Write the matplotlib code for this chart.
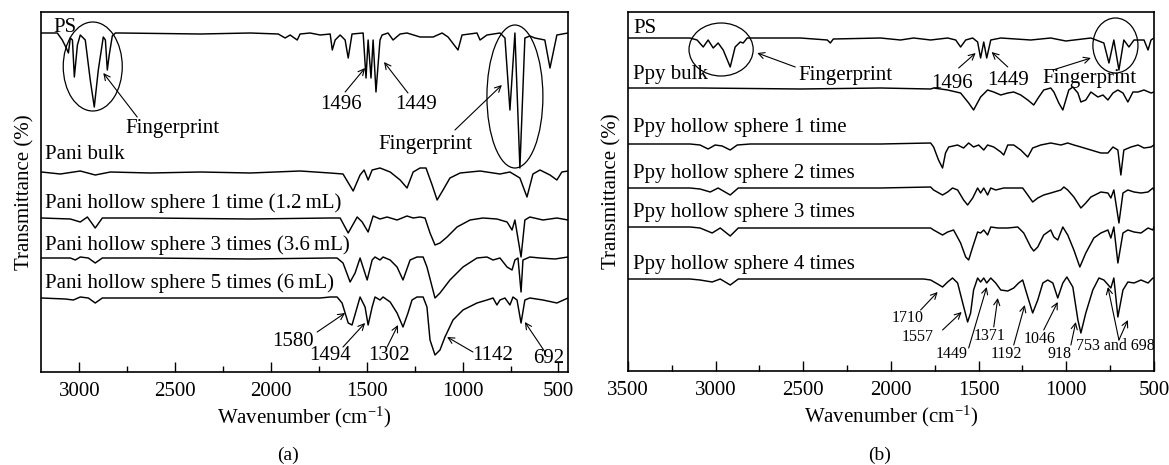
import numpy as np
import matplotlib
matplotlib.use('Agg')
import matplotlib.pyplot as plt
from matplotlib.patches import Ellipse

# ——— data: FTIR traces (wavenumber cm-1, transmittance a.u., stacked) ———
# panel (a): PS and Pani samples
ps_a_wn = [3198, 3115, 3089, 3068, 3057, 3047, 3036, 3026, 3010, 2995, 2969, 2943, 2922, 2901,
           2875, 2864, 2854, 2844, 2828, 2812, 2786, 2369, 2108, 1962, 1926, 1900, 1863, 1848,
           1796, 1743, 1691, 1680, 1665, 1639, 1613, 1597, 1577, 1519, 1504, 1493, 1478, 1467,
           1452, 1431, 1420, 1389, 1363, 1326, 1290, 1222, 1154, 1107, 1076, 1024, 1003, 925,
           909, 873, 805, 779, 753, 727, 701, 675, 649, 623, 571, 544, 508, 450]
ps_a_t = [339, 339, 332, 324, 319, 334, 332, 295, 327, 337, 332, 292, 265, 302,
          335, 332, 302, 317, 336, 339, 339, 338, 339, 338, 334, 337, 332, 338,
          339, 337, 338, 322, 332, 337, 332, 314, 338, 339, 294, 332, 294, 332,
          280, 332, 337, 339, 332, 338, 339, 335, 335, 339, 335, 322, 337, 339,
          332, 337, 339, 334, 262, 339, 204, 334, 336, 334, 332, 304, 337, 339]

pani_bulk_wn = [3198, 3099, 2995, 2917, 2838, 2630, 2369, 2108, 1848, 1691, 1624, 1571, 1535,
                1514, 1493, 1472, 1431, 1378, 1326, 1290, 1258, 1222, 1191, 1159, 1133, 1102,
                1066, 1013, 909, 805, 753, 701, 664, 633, 596, 544, 508, 482, 450]
pani_bulk_t = [200, 198, 201, 197, 200, 199, 200, 199, 201, 199, 198, 181, 197,
               202, 192, 202, 204, 200, 192, 184, 200, 204, 204, 187, 172, 182,
               194, 199, 201, 198, 200, 194, 175, 198, 202, 197, 192, 200, 201]

pani_1_wn = [3198, 3047, 2995, 2958, 2917, 2880, 2630, 2108, 1691, 1639, 1597, 1550, 1524,
             1493, 1467, 1431, 1394, 1342, 1290, 1258, 1222, 1196, 1170, 1144, 1118, 1081,
             1029, 961, 894, 821, 768, 742, 727, 695, 675, 649, 581, 508, 450]
pani_1_t = [154, 153, 150, 155, 144, 154, 154, 153, 154, 154, 139, 155, 150,
            140, 156, 153, 155, 152, 156, 154, 155, 154, 139, 127, 129, 135,
            145, 152, 154, 153, 150, 142, 152, 115, 152, 155, 152, 154, 152]

pani_3_wn = [3198, 3047, 3021, 2995, 2953, 2917, 2880, 2630, 2108, 1691, 1655, 1624, 1587,
             1561, 1535, 1498, 1472, 1457, 1431, 1415, 1378, 1342, 1311, 1274, 1238, 1206,
             1186, 1144, 1118, 1066, 998, 925, 873, 841, 805, 768, 742, 727, 711, 695, 685,
             649, 596, 518, 450]
pani_3_t = [114, 114, 112, 115, 114, 109, 114, 114, 113, 114, 114, 109, 90,
            99, 114, 92, 112, 115, 112, 115, 112, 105, 92, 112, 115, 115,
            105, 74, 79, 92, 105, 114, 115, 112, 114, 105, 102, 112, 114, 80, 112,
            115, 114, 113, 115]

pani_5_wn = [3198, 3073, 3031, 2995, 2953, 2917, 2880, 2630, 2108, 1743, 1691, 1655, 1629,
             1613, 1597, 1577, 1550, 1535, 1509, 1493, 1472, 1457, 1431, 1415, 1378, 1342,
             1311, 1285, 1264, 1238, 1206, 1186, 1170, 1144, 1118, 1092, 1050, 998, 925, 873,
             841, 821, 805, 779, 753, 737, 716, 695, 675, 649, 581, 508, 450]
pani_5_t = [74, 73, 72, 75, 74, 69, 74, 74, 74, 74, 75, 75, 69,
            59, 49, 47, 65, 75, 65, 47, 65, 75, 72, 75, 70, 59,
            45, 59, 72, 75, 75, 65, 32, 17, 22, 35, 52, 62, 69, 72,
            74, 67, 72, 74, 67, 75, 72, 49, 72, 74, 72, 69, 74]

# panel (b): PS and Ppy samples
ps_b_wn = [3500, 3146, 3106, 3071, 3043, 3014, 2986, 2957, 2917, 2889, 2860, 2843, 2820, 2517,
           2363, 2346, 2329, 2060, 1946, 1871, 1774, 1677, 1631, 1603, 1574, 1534, 1506, 1489,
           1471, 1454, 1431, 1374, 1203, 1089, 1003, 860, 786, 757, 729, 700, 672, 643, 614,
           557, 534, 517, 500]
ps_b_t = [333, 333, 331, 324, 331, 323, 328, 321, 304, 324, 329, 328, 333, 333,
          331, 328, 332, 333, 331, 333, 331, 333, 331, 324, 331, 333, 329, 313,
          329, 313, 331, 333, 331, 333, 330, 333, 328, 308, 331, 301, 331, 324, 331,
          331, 321, 331, 333]

ppy_bulk_wn = [3500, 3089, 2517, 2060, 1774, 1757, 1677, 1603, 1557, 1529, 1489, 1449, 1414,
               1374, 1334, 1300, 1260, 1220, 1186, 1157, 1129, 1089, 1071, 1043, 1020, 1003,
               986, 963, 934, 917, 889, 860, 820, 791, 763, 734, 706, 677, 649, 620, 591, 557,
               517, 500]
ppy_bulk_t = [283, 283, 282, 283, 282, 283, 281, 278, 268, 261, 274, 281, 279,
              276, 278, 279, 276, 271, 266, 274, 281, 283, 279, 268, 261, 271,
              281, 284, 278, 269, 271, 279, 274, 276, 271, 278, 281, 278, 269, 279, 279, 281,
              278, 279]

ppy_1_wn = [3500, 3146, 3089, 3043, 3003, 2963, 2917, 2877, 2803, 2060, 1774, 1757, 1729,
            1706, 1689, 1671, 1620, 1586, 1557, 1529, 1500, 1471, 1449, 1414, 1374, 1357,
            1334, 1300, 1260, 1220, 1192, 1146, 1089, 1031, 992, 957, 917, 860, 803, 763,
            734, 706, 689, 672, 631, 591, 557, 517, 500]
ppy_1_t = [227, 227, 226, 222, 226, 225, 221, 226, 227, 227, 228, 224, 211,
           203, 218, 224, 226, 223, 228, 224, 226, 221, 226, 224, 219, 216,
           226, 226, 221, 214, 223, 226, 228, 226, 228, 226, 224, 221, 218, 218,
           224, 221, 196, 221, 224, 226, 223, 224, 226]

ppy_2_wn = [3500, 3146, 3089, 3031, 2986, 2917, 2871, 2060, 1774, 1757, 1706, 1677, 1649,
            1620, 1586, 1563, 1534, 1506, 1489, 1471, 1449, 1431, 1403, 1357, 1300, 1249,
            1220, 1192, 1163, 1129, 1089, 1031, 1014, 992, 957, 917, 889, 860, 803, 763,
            746, 729, 700, 677, 649, 614, 574, 534, 506, 500]
ppy_2_t = [183, 183, 182, 179, 183, 176, 183, 183, 184, 181, 176, 179, 183,
           181, 171, 166, 173, 183, 178, 183, 176, 183, 181, 183, 183, 183,
           176, 169, 173, 176, 178, 181, 184, 181, 174, 163, 168, 174, 179, 178,
           173, 181, 148, 178, 181, 179, 178, 179, 183, 181]

ppy_3_wn = [3500, 3146, 3089, 3020, 2974, 2917, 2871, 2060, 1774, 1757, 1706, 1677, 1643,
            1603, 1574, 1557, 1534, 1506, 1489, 1471, 1449, 1431, 1391, 1334, 1277, 1243,
            1203, 1186, 1163, 1129, 1089, 1071, 1049, 1020, 992, 957, 923, 889, 843, 803,
            763, 746, 729, 706, 677, 649, 614, 574, 534, 506, 500]
ppy_3_t = [144, 144, 143, 138, 143, 135, 143, 143, 143, 141, 136, 139, 141,
           128, 114, 111, 124, 139, 138, 141, 136, 144, 143, 143, 144, 138,
           124, 120, 124, 136, 141, 134, 131, 144, 136, 121, 104, 118, 133, 138,
           141, 133, 144, 108, 138, 141, 139, 138, 143, 141, 144]

ppy_4_wn = [3500, 3146, 3089, 3020, 2974, 2917, 2871, 2060, 1814, 1774, 1734, 1706, 1677,
            1649, 1620, 1591, 1563, 1546, 1529, 1506, 1489, 1471, 1454, 1431, 1403, 1374,
            1334, 1300, 1272, 1249, 1220, 1192, 1163, 1134, 1106, 1077, 1049, 1020, 997, 963,
            934, 917, 889, 849, 814, 786, 746, 729, 706, 677, 649, 614, 574, 534, 506, 500]
ppy_4_t = [92, 92, 91, 89, 92, 86, 92, 92, 92, 91, 87, 84, 89,
           93, 88, 68, 49, 58, 81, 93, 89, 93, 88, 93, 88, 81,
           80, 83, 88, 91, 74, 58, 71, 88, 91, 88, 73, 88, 94, 84,
           51, 38, 58, 81, 93, 91, 83, 93, 54, 81, 89, 88, 91, 88, 93, 93]

traces_a = [(ps_a_wn, ps_a_t), (pani_bulk_wn, pani_bulk_t), (pani_1_wn, pani_1_t),
            (pani_3_wn, pani_3_t), (pani_5_wn, pani_5_t)]
traces_b = [(ps_b_wn, ps_b_t), (ppy_bulk_wn, ppy_bulk_t), (ppy_1_wn, ppy_1_t),
            (ppy_2_wn, ppy_2_t), (ppy_3_wn, ppy_3_t), (ppy_4_wn, ppy_4_t)]

labels_a = ['PS', 'Pani bulk', 'Pani hollow sphere 1 time (1.2\u2009mL)',
            'Pani hollow sphere 3 times (3.6\u2009mL)', 'Pani hollow sphere 5 times (6\u2009mL)']
label_a_x = [3136, 3177, 3177, 3177, 3177]
label_a_y = [340, 213, 164, 122, 84]

labels_b = ['PS', 'Ppy bulk', 'Ppy hollow sphere 1 time', 'Ppy hollow sphere 2 times',
            'Ppy hollow sphere 3 times', 'Ppy hollow sphere 4 times']
label_b_x = [3471, 3471, 3471, 3471, 3471, 3471]
label_b_y = [338, 292, 239, 193, 154, 102]

# peak annotations: text, text position, arrow tail, arrow tip
peaks_a = [
    ('1496', (1634, 263), (1613, 280), (1509, 304)),
    ('1449', (1243, 263), (1285, 279), (1410, 310)),
    ('1580', (1884, 26), (1759, 40), (1613, 59)),
    ('1494', (1691, 12), (1624, 25), (1509, 49)),
    ('1302', (1384, 12), (1394, 25), (1337, 47)),
    ('1142', (842, 12), (946, 20), (1081, 35)),
    ('692', (549, 9), (570, 20), (675, 50)),
]
peaks_b_top = [
    ('1496', (1654, 283), (1614, 303), (1517, 318)),
    ('1449', (1334, 286), (1334, 304), (1426, 319)),
]
peaks_b_bottom = [
    ('1710', (1906, 49), (1831, 61), (1734, 79)),
    ('1557', (1849, 30), (1706, 41), (1597, 59)),
    ('1449', (1654, 13), (1557, 23), (1454, 84)),
    ('1371', (1437, 31), (1414, 44), (1391, 73)),
    ('1192', (1340, 13), (1300, 26), (1237, 66)),
    ('1046', (1152, 28), (1129, 41), (1049, 69)),
    ('918', (1037, 13), (974, 26), (946, 49)),
]

# ——— style ———
plt.rcParams.update({
    'font.family': 'serif',
    'font.serif': ['Liberation Serif', 'DejaVu Serif'],
    'mathtext.fontset': 'custom',
    'mathtext.rm': 'Liberation Serif',
    'mathtext.it': 'Liberation Serif:italic',
    'font.size': 15,
})
LW = 1.05
FS = 15
FS_SMALL = 11.5
arrow_kw = dict(arrowstyle='->', lw=0.8, color='black', shrinkA=0, shrinkB=0,
                mutation_scale=11)

fig = plt.figure(figsize=(11.69, 4.65), dpi=100)
ax_a = fig.add_axes([41 / 1169, 1 - 372 / 465, 527 / 1169, 360 / 465])
ax_b = fig.add_axes([628 / 1169, 1 - 371 / 465, 526 / 1169, 359 / 465])


def style_axis(ax, xlim, ylim):
    ax.set_xticks(np.arange(500, 3501, 500))
    ax.set_xticks(np.arange(750, 3500, 500), minor=True)
    ax.set_xlim(*xlim)
    ax.set_ylim(*ylim)
    ax.set_yticks([])
    ax.tick_params(axis='x', which='both', direction='in', top=False, pad=7, labelsize=FS)
    ax.tick_params(axis='x', which='major', length=7, width=1.0)
    ax.tick_params(axis='x', which='minor', length=4, width=1.0)
    for s in ax.spines.values():
        s.set_linewidth(1.2)
    ax.set_xlabel('Wavenumber (cm$^{-1}$)', fontsize=FS, labelpad=3)
    ax.set_ylabel('Transmittance (%)', fontsize=FS, labelpad=5)


style_axis(ax_a, (3200, 450), (0, 360))
style_axis(ax_b, (3500, 500), (0, 359))

for wn, t in traces_a:
    ax_a.plot(wn, t, color='black', lw=LW)
for wn, t in traces_b:
    ax_b.plot(wn, t, color='black', lw=LW)

for txt, x, y in zip(labels_a, label_a_x, label_a_y):
    ax_a.text(x, y, txt, fontsize=FS, ha='left', va='baseline')
for txt, x, y in zip(labels_b, label_b_x, label_b_y):
    ax_b.text(x, y, txt, fontsize=FS, ha='left', va='baseline')

# fingerprint regions
ax_a.add_patch(Ellipse((2930, 305.5), 308, 89, fill=False, lw=0.9, color='black'))
ax_a.add_patch(Ellipse((727, 275.5), 292, 143, fill=False, lw=0.9, color='black'))
ax_a.text(2760, 239, 'Fingerprint', fontsize=FS, ha='left', va='baseline')
ax_a.annotate('', xy=(2875, 299), xytext=(2698, 255), arrowprops=arrow_kw)
ax_a.text(1196, 223, 'Fingerprint', fontsize=FS, ha='center', va='baseline')
ax_a.annotate('', xy=(795, 287), xytext=(1040, 242), arrowprops=arrow_kw)

ax_b.add_patch(Ellipse((2969, 321.5), 366, 53, fill=False, lw=0.9, color='black'))
ax_b.add_patch(Ellipse((720, 325.5), 257, 55, fill=False, lw=0.9, color='black'))
ax_b.text(2260, 291, 'Fingerprint', fontsize=FS, ha='center', va='baseline')
ax_b.annotate('', xy=(2763, 318), xytext=(2546, 304), arrowprops=arrow_kw)
ax_b.text(866, 288, 'Fingerprint', fontsize=FS, ha='center', va='baseline')
ax_b.annotate('', xy=(860, 313), xytext=(1077, 301), arrowprops=arrow_kw)

for txt, pos, tail, tip in peaks_a:
    ax_a.text(pos[0], pos[1], txt, fontsize=FS, ha='center', va='baseline')
    ax_a.annotate('', xy=tip, xytext=tail, arrowprops=arrow_kw)
for txt, pos, tail, tip in peaks_b_top:
    ax_b.text(pos[0], pos[1], txt, fontsize=FS, ha='center', va='baseline')
    ax_b.annotate('', xy=tip, xytext=tail, arrowprops=arrow_kw)
for txt, pos, tail, tip in peaks_b_bottom:
    ax_b.text(pos[0], pos[1], txt, fontsize=FS_SMALL, ha='center', va='baseline')
    ax_b.annotate('', xy=tip, xytext=tail, arrowprops=arrow_kw)
ax_b.text(723, 21, '753 and 698', fontsize=FS_SMALL, ha='center', va='baseline')
ax_b.annotate('', xy=(763, 84), xytext=(700, 31), arrowprops=arrow_kw)
ax_b.annotate('', xy=(649, 51), xytext=(700, 31), arrowprops=arrow_kw)

fig.text(288 / 1169, 1 - 455 / 465, '(a)', fontsize=14, ha='center', va='center')
fig.text(880 / 1169, 1 - 455 / 465, '(b)', fontsize=14, ha='center', va='center')

fig.savefig('out.png', dpi=100, facecolor='white')
